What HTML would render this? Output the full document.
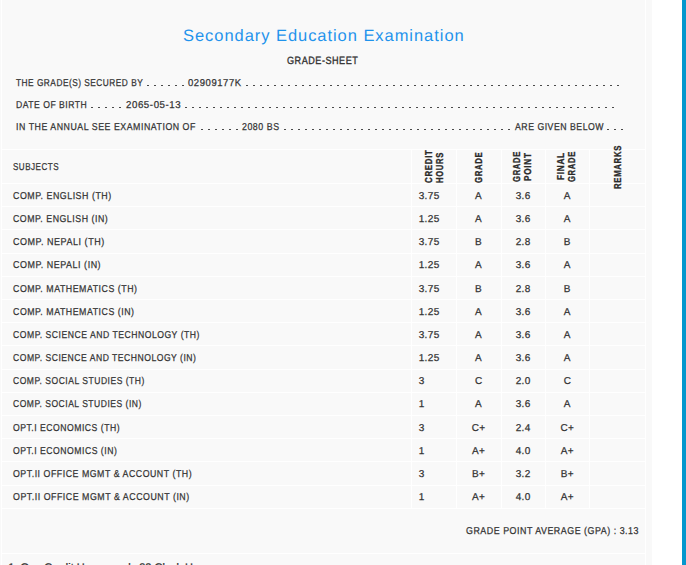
<!DOCTYPE html>
<html><head><meta charset="utf-8"><style>
html,body{margin:0;padding:0}
body{text-rendering:geometricPrecision;width:686px;height:565px;overflow:hidden;background:#f9f9f9;position:relative;font-family:"Liberation Sans", sans-serif}
.b{position:absolute}
.t{position:absolute;transform-origin:0 0;white-space:nowrap;font-size:10px;line-height:10px;font-weight:bold;color:#333}
</style></head><body>
<div class="b" style="left:1px;top:0px;width:1px;height:565px;background:#fff"></div>
<div class="b" style="left:645px;top:0px;width:1px;height:565px;background:#fff"></div>
<div class="b" style="left:652px;top:0px;width:30px;height:565px;background:#fff"></div>
<div class="b" style="left:682px;top:0px;width:4px;height:565px;background:#0497cd"></div>
<div class="b" style="left:147px;top:85px;width:37px;height:1px;background:linear-gradient(90deg,#4a4a4a 2px,transparent 2px) 0 0/7px 1px repeat-x"></div>
<div class="b" style="left:246px;top:85px;width:373px;height:1px;background:linear-gradient(90deg,#4a4a4a 2px,transparent 2px) 0 0/7px 1px repeat-x"></div>
<div class="b" style="left:91px;top:107px;width:30px;height:1px;background:linear-gradient(90deg,#4a4a4a 2px,transparent 2px) 0 0/7px 1px repeat-x"></div>
<div class="b" style="left:185px;top:107px;width:429px;height:1px;background:linear-gradient(90deg,#4a4a4a 2px,transparent 2px) 0 0/7px 1px repeat-x"></div>
<div class="b" style="left:201px;top:129px;width:37px;height:1px;background:linear-gradient(90deg,#4a4a4a 2px,transparent 2px) 0 0/7px 1px repeat-x"></div>
<div class="b" style="left:284px;top:129px;width:226px;height:1px;background:linear-gradient(90deg,#4a4a4a 2px,transparent 2px) 0 0/7px 1px repeat-x"></div>
<div class="b" style="left:607px;top:129px;width:16px;height:1px;background:linear-gradient(90deg,#4a4a4a 2px,transparent 2px) 0 0/7px 1px repeat-x"></div>
<div class="b" style="left:2px;top:149px;width:643px;height:1px;background:#fff"></div>
<div class="b" style="left:2px;top:183px;width:643px;height:1px;background:#fff"></div>
<div class="b" style="left:2px;top:206px;width:643px;height:1px;background:#fff"></div>
<div class="b" style="left:2px;top:229px;width:643px;height:1px;background:#fff"></div>
<div class="b" style="left:2px;top:253px;width:643px;height:1px;background:#fff"></div>
<div class="b" style="left:2px;top:276px;width:643px;height:1px;background:#fff"></div>
<div class="b" style="left:2px;top:299px;width:643px;height:1px;background:#fff"></div>
<div class="b" style="left:2px;top:322px;width:643px;height:1px;background:#fff"></div>
<div class="b" style="left:2px;top:345px;width:643px;height:1px;background:#fff"></div>
<div class="b" style="left:2px;top:369px;width:643px;height:1px;background:#fff"></div>
<div class="b" style="left:2px;top:392px;width:643px;height:1px;background:#fff"></div>
<div class="b" style="left:2px;top:415px;width:643px;height:1px;background:#fff"></div>
<div class="b" style="left:2px;top:438px;width:643px;height:1px;background:#fff"></div>
<div class="b" style="left:2px;top:461px;width:643px;height:1px;background:#fff"></div>
<div class="b" style="left:2px;top:485px;width:643px;height:1px;background:#fff"></div>
<div class="b" style="left:2px;top:508px;width:643px;height:1px;background:#fff"></div>
<div class="b" style="left:2px;top:553px;width:643px;height:1px;background:#fff"></div>
<div class="b" style="left:411px;top:149px;width:1px;height:359px;background:#fff"></div>
<div class="b" style="left:456px;top:149px;width:1px;height:359px;background:#fff"></div>
<div class="b" style="left:501px;top:149px;width:1px;height:359px;background:#fff"></div>
<div class="b" style="left:545px;top:149px;width:1px;height:359px;background:#fff"></div>
<div class="b" style="left:589px;top:149px;width:1px;height:359px;background:#fff"></div>
<div class="t" style="left:183.00px;top:27.53px;font-size:16.5px;line-height:16.5px;font-weight:normal;color:#1f93ec;letter-spacing:0.948px;transform-origin:0 13.967px;transform:scale(1.0000,1.0)">Secondary Education Examination</div>
<div class="t" style="left:287.20px;top:56.11px;font-size:10.5px;line-height:10.5px;font-weight:normal;color:#333;letter-spacing:0.600px;-webkit-text-stroke:0.35px #333;transform-origin:0 8.888px;transform:scale(0.8650,1.0)">GRADE-SHEET</div>
<div class="t" style="left:16.00px;top:78.53px;font-size:10px;line-height:10px;font-weight:normal;color:#333;letter-spacing:0.600px;-webkit-text-stroke:0.25px #333;transform-origin:0 8.465px;transform:scale(0.8301,1.0)">THE GRADE(S) SECURED BY</div>
<div class="t" style="left:188.00px;top:78.53px;font-size:10px;line-height:10px;font-weight:normal;color:#333;letter-spacing:0.600px;-webkit-text-stroke:0.25px #333;transform-origin:0 8.465px;transform:scale(0.9486,1.0)">02909177K</div>
<div class="t" style="left:15.80px;top:100.53px;font-size:10px;line-height:10px;font-weight:normal;color:#333;letter-spacing:0.600px;-webkit-text-stroke:0.25px #333;transform-origin:0 8.465px;transform:scale(0.8592,1.0)">DATE OF BIRTH</div>
<div class="t" style="left:125.80px;top:100.53px;font-size:10px;line-height:10px;font-weight:normal;color:#333;letter-spacing:0.600px;-webkit-text-stroke:0.25px #333;transform-origin:0 8.465px;transform:scale(0.9668,1.0)">2065-05-13</div>
<div class="t" style="left:16.40px;top:122.53px;font-size:10px;line-height:10px;font-weight:normal;color:#333;letter-spacing:0.600px;-webkit-text-stroke:0.25px #333;transform-origin:0 8.465px;transform:scale(0.8790,1.0)">IN THE ANNUAL SEE EXAMINATION OF</div>
<div class="t" style="left:242.40px;top:122.53px;font-size:10px;line-height:10px;font-weight:normal;color:#333;letter-spacing:0.600px;-webkit-text-stroke:0.25px #333;transform-origin:0 8.465px;transform:scale(0.8819,1.0)">2080 BS</div>
<div class="t" style="left:514.50px;top:122.53px;font-size:10px;line-height:10px;font-weight:normal;color:#333;letter-spacing:0.600px;-webkit-text-stroke:0.25px #333;transform-origin:0 8.465px;transform:scale(0.8699,1.0)">ARE GIVEN BELOW</div>
<div class="t" style="left:13.10px;top:162.53px;font-size:10px;line-height:10px;font-weight:normal;color:#333;letter-spacing:0.600px;-webkit-text-stroke:0.25px #333;transform-origin:0 8.465px;transform:scale(0.8069,1.0)">SUBJECTS</div>
<div class="t" style="left:13.10px;top:191.53px;font-size:10px;line-height:10px;font-weight:normal;color:#333;letter-spacing:0.600px;-webkit-text-stroke:0.25px #333;transform-origin:0 8.465px;transform:scale(0.8835,1.0)">COMP. ENGLISH (TH)</div>
<div class="t" style="left:13.10px;top:214.53px;font-size:10px;line-height:10px;font-weight:normal;color:#333;letter-spacing:0.600px;-webkit-text-stroke:0.25px #333;transform-origin:0 8.465px;transform:scale(0.8783,1.0)">COMP. ENGLISH (IN)</div>
<div class="t" style="left:13.10px;top:237.53px;font-size:10px;line-height:10px;font-weight:normal;color:#333;letter-spacing:0.600px;-webkit-text-stroke:0.25px #333;transform-origin:0 8.465px;transform:scale(0.8988,1.0)">COMP. NEPALI (TH)</div>
<div class="t" style="left:13.10px;top:260.54px;font-size:10px;line-height:10px;font-weight:normal;color:#333;letter-spacing:0.600px;-webkit-text-stroke:0.25px #333;transform-origin:0 8.465px;transform:scale(0.8926,1.0)">COMP. NEPALI (IN)</div>
<div class="t" style="left:13.10px;top:284.54px;font-size:10px;line-height:10px;font-weight:normal;color:#333;letter-spacing:0.600px;-webkit-text-stroke:0.25px #333;transform-origin:0 8.465px;transform:scale(0.8798,1.0)">COMP. MATHEMATICS (TH)</div>
<div class="t" style="left:13.10px;top:307.54px;font-size:10px;line-height:10px;font-weight:normal;color:#333;letter-spacing:0.600px;-webkit-text-stroke:0.25px #333;transform-origin:0 8.465px;transform:scale(0.8793,1.0)">COMP. MATHEMATICS (IN)</div>
<div class="t" style="left:13.10px;top:330.54px;font-size:10px;line-height:10px;font-weight:normal;color:#333;letter-spacing:0.600px;-webkit-text-stroke:0.25px #333;transform-origin:0 8.465px;transform:scale(0.8611,1.0)">COMP. SCIENCE AND TECHNOLOGY (TH)</div>
<div class="t" style="left:13.10px;top:353.54px;font-size:10px;line-height:10px;font-weight:normal;color:#333;letter-spacing:0.600px;-webkit-text-stroke:0.25px #333;transform-origin:0 8.465px;transform:scale(0.8582,1.0)">COMP. SCIENCE AND TECHNOLOGY (IN)</div>
<div class="t" style="left:13.10px;top:376.54px;font-size:10px;line-height:10px;font-weight:normal;color:#333;letter-spacing:0.600px;-webkit-text-stroke:0.25px #333;transform-origin:0 8.465px;transform:scale(0.8538,1.0)">COMP. SOCIAL STUDIES (TH)</div>
<div class="t" style="left:13.10px;top:399.54px;font-size:10px;line-height:10px;font-weight:normal;color:#333;letter-spacing:0.600px;-webkit-text-stroke:0.25px #333;transform-origin:0 8.465px;transform:scale(0.8521,1.0)">COMP. SOCIAL STUDIES (IN)</div>
<div class="t" style="left:13.10px;top:423.54px;font-size:10px;line-height:10px;font-weight:normal;color:#333;letter-spacing:0.600px;-webkit-text-stroke:0.25px #333;transform-origin:0 8.465px;transform:scale(0.8622,1.0)">OPT.I ECONOMICS (TH)</div>
<div class="t" style="left:13.10px;top:446.54px;font-size:10px;line-height:10px;font-weight:normal;color:#333;letter-spacing:0.600px;-webkit-text-stroke:0.25px #333;transform-origin:0 8.465px;transform:scale(0.8628,1.0)">OPT.I ECONOMICS (IN)</div>
<div class="t" style="left:13.10px;top:469.54px;font-size:10px;line-height:10px;font-weight:normal;color:#333;letter-spacing:0.600px;-webkit-text-stroke:0.25px #333;transform-origin:0 8.465px;transform:scale(0.8785,1.0)">OPT.II OFFICE MGMT &amp; ACCOUNT (TH)</div>
<div class="t" style="left:13.10px;top:492.54px;font-size:10px;line-height:10px;font-weight:normal;color:#333;letter-spacing:0.600px;-webkit-text-stroke:0.25px #333;transform-origin:0 8.465px;transform:scale(0.8812,1.0)">OPT.II OFFICE MGMT &amp; ACCOUNT (IN)</div>
<div class="t" style="left:466.00px;top:526.53px;font-size:10px;line-height:10px;font-weight:normal;color:#333;letter-spacing:0.600px;-webkit-text-stroke:0.25px #333;transform-origin:0 8.465px;transform:scale(0.8855,1.0)">GRADE POINT AVERAGE (GPA) : 3.13</div>
<div class="t" style="left:418.70px;top:191.53px;font-weight:normal;letter-spacing:0.35px;-webkit-text-stroke:0.25px #333;transform-origin:0 8.465px;transform:scaleY(1.0)">3.75</div>
<div class="t" style="left:418.70px;top:214.53px;font-weight:normal;letter-spacing:0.35px;-webkit-text-stroke:0.25px #333;transform-origin:0 8.465px;transform:scaleY(1.0)">1.25</div>
<div class="t" style="left:418.70px;top:237.53px;font-weight:normal;letter-spacing:0.35px;-webkit-text-stroke:0.25px #333;transform-origin:0 8.465px;transform:scaleY(1.0)">3.75</div>
<div class="t" style="left:418.70px;top:260.54px;font-weight:normal;letter-spacing:0.35px;-webkit-text-stroke:0.25px #333;transform-origin:0 8.465px;transform:scaleY(1.0)">1.25</div>
<div class="t" style="left:418.70px;top:284.54px;font-weight:normal;letter-spacing:0.35px;-webkit-text-stroke:0.25px #333;transform-origin:0 8.465px;transform:scaleY(1.0)">3.75</div>
<div class="t" style="left:418.70px;top:307.54px;font-weight:normal;letter-spacing:0.35px;-webkit-text-stroke:0.25px #333;transform-origin:0 8.465px;transform:scaleY(1.0)">1.25</div>
<div class="t" style="left:418.70px;top:330.54px;font-weight:normal;letter-spacing:0.35px;-webkit-text-stroke:0.25px #333;transform-origin:0 8.465px;transform:scaleY(1.0)">3.75</div>
<div class="t" style="left:418.70px;top:353.54px;font-weight:normal;letter-spacing:0.35px;-webkit-text-stroke:0.25px #333;transform-origin:0 8.465px;transform:scaleY(1.0)">1.25</div>
<div class="t" style="left:418.70px;top:376.54px;font-weight:normal;letter-spacing:0.35px;-webkit-text-stroke:0.25px #333;transform-origin:0 8.465px;transform:scaleY(1.0)">3</div>
<div class="t" style="left:418.70px;top:399.54px;font-weight:normal;letter-spacing:0.35px;-webkit-text-stroke:0.25px #333;transform-origin:0 8.465px;transform:scaleY(1.0)">1</div>
<div class="t" style="left:418.70px;top:423.54px;font-weight:normal;letter-spacing:0.35px;-webkit-text-stroke:0.25px #333;transform-origin:0 8.465px;transform:scaleY(1.0)">3</div>
<div class="t" style="left:418.70px;top:446.54px;font-weight:normal;letter-spacing:0.35px;-webkit-text-stroke:0.25px #333;transform-origin:0 8.465px;transform:scaleY(1.0)">1</div>
<div class="t" style="left:418.70px;top:469.54px;font-weight:normal;letter-spacing:0.35px;-webkit-text-stroke:0.25px #333;transform-origin:0 8.465px;transform:scaleY(1.0)">3</div>
<div class="t" style="left:418.70px;top:492.54px;font-weight:normal;letter-spacing:0.35px;-webkit-text-stroke:0.25px #333;transform-origin:0 8.465px;transform:scaleY(1.0)">1</div>
<div class="t" style="left:475.00px;top:191.53px;font-weight:normal;letter-spacing:0.35px;-webkit-text-stroke:0.25px #333;transform-origin:0 8.465px;transform:scaleY(1.0)">A</div>
<div class="t" style="left:515.68px;top:191.53px;font-weight:normal;letter-spacing:0.35px;-webkit-text-stroke:0.25px #333;transform-origin:0 8.465px;transform:scaleY(1.0)">3.6</div>
<div class="t" style="left:563.80px;top:191.53px;font-weight:normal;letter-spacing:0.35px;-webkit-text-stroke:0.25px #333;transform-origin:0 8.465px;transform:scaleY(1.0)">A</div>
<div class="t" style="left:475.00px;top:214.53px;font-weight:normal;letter-spacing:0.35px;-webkit-text-stroke:0.25px #333;transform-origin:0 8.465px;transform:scaleY(1.0)">A</div>
<div class="t" style="left:515.68px;top:214.53px;font-weight:normal;letter-spacing:0.35px;-webkit-text-stroke:0.25px #333;transform-origin:0 8.465px;transform:scaleY(1.0)">3.6</div>
<div class="t" style="left:563.80px;top:214.53px;font-weight:normal;letter-spacing:0.35px;-webkit-text-stroke:0.25px #333;transform-origin:0 8.465px;transform:scaleY(1.0)">A</div>
<div class="t" style="left:475.00px;top:237.53px;font-weight:normal;letter-spacing:0.35px;-webkit-text-stroke:0.25px #333;transform-origin:0 8.465px;transform:scaleY(1.0)">B</div>
<div class="t" style="left:515.68px;top:237.53px;font-weight:normal;letter-spacing:0.35px;-webkit-text-stroke:0.25px #333;transform-origin:0 8.465px;transform:scaleY(1.0)">2.8</div>
<div class="t" style="left:563.80px;top:237.53px;font-weight:normal;letter-spacing:0.35px;-webkit-text-stroke:0.25px #333;transform-origin:0 8.465px;transform:scaleY(1.0)">B</div>
<div class="t" style="left:475.00px;top:260.54px;font-weight:normal;letter-spacing:0.35px;-webkit-text-stroke:0.25px #333;transform-origin:0 8.465px;transform:scaleY(1.0)">A</div>
<div class="t" style="left:515.68px;top:260.54px;font-weight:normal;letter-spacing:0.35px;-webkit-text-stroke:0.25px #333;transform-origin:0 8.465px;transform:scaleY(1.0)">3.6</div>
<div class="t" style="left:563.80px;top:260.54px;font-weight:normal;letter-spacing:0.35px;-webkit-text-stroke:0.25px #333;transform-origin:0 8.465px;transform:scaleY(1.0)">A</div>
<div class="t" style="left:475.00px;top:284.54px;font-weight:normal;letter-spacing:0.35px;-webkit-text-stroke:0.25px #333;transform-origin:0 8.465px;transform:scaleY(1.0)">B</div>
<div class="t" style="left:515.68px;top:284.54px;font-weight:normal;letter-spacing:0.35px;-webkit-text-stroke:0.25px #333;transform-origin:0 8.465px;transform:scaleY(1.0)">2.8</div>
<div class="t" style="left:563.80px;top:284.54px;font-weight:normal;letter-spacing:0.35px;-webkit-text-stroke:0.25px #333;transform-origin:0 8.465px;transform:scaleY(1.0)">B</div>
<div class="t" style="left:475.00px;top:307.54px;font-weight:normal;letter-spacing:0.35px;-webkit-text-stroke:0.25px #333;transform-origin:0 8.465px;transform:scaleY(1.0)">A</div>
<div class="t" style="left:515.68px;top:307.54px;font-weight:normal;letter-spacing:0.35px;-webkit-text-stroke:0.25px #333;transform-origin:0 8.465px;transform:scaleY(1.0)">3.6</div>
<div class="t" style="left:563.80px;top:307.54px;font-weight:normal;letter-spacing:0.35px;-webkit-text-stroke:0.25px #333;transform-origin:0 8.465px;transform:scaleY(1.0)">A</div>
<div class="t" style="left:475.00px;top:330.54px;font-weight:normal;letter-spacing:0.35px;-webkit-text-stroke:0.25px #333;transform-origin:0 8.465px;transform:scaleY(1.0)">A</div>
<div class="t" style="left:515.68px;top:330.54px;font-weight:normal;letter-spacing:0.35px;-webkit-text-stroke:0.25px #333;transform-origin:0 8.465px;transform:scaleY(1.0)">3.6</div>
<div class="t" style="left:563.80px;top:330.54px;font-weight:normal;letter-spacing:0.35px;-webkit-text-stroke:0.25px #333;transform-origin:0 8.465px;transform:scaleY(1.0)">A</div>
<div class="t" style="left:475.00px;top:353.54px;font-weight:normal;letter-spacing:0.35px;-webkit-text-stroke:0.25px #333;transform-origin:0 8.465px;transform:scaleY(1.0)">A</div>
<div class="t" style="left:515.68px;top:353.54px;font-weight:normal;letter-spacing:0.35px;-webkit-text-stroke:0.25px #333;transform-origin:0 8.465px;transform:scaleY(1.0)">3.6</div>
<div class="t" style="left:563.80px;top:353.54px;font-weight:normal;letter-spacing:0.35px;-webkit-text-stroke:0.25px #333;transform-origin:0 8.465px;transform:scaleY(1.0)">A</div>
<div class="t" style="left:475.00px;top:376.54px;font-weight:normal;letter-spacing:0.35px;-webkit-text-stroke:0.25px #333;transform-origin:0 8.465px;transform:scaleY(1.0)">C</div>
<div class="t" style="left:515.68px;top:376.54px;font-weight:normal;letter-spacing:0.35px;-webkit-text-stroke:0.25px #333;transform-origin:0 8.465px;transform:scaleY(1.0)">2.0</div>
<div class="t" style="left:563.80px;top:376.54px;font-weight:normal;letter-spacing:0.35px;-webkit-text-stroke:0.25px #333;transform-origin:0 8.465px;transform:scaleY(1.0)">C</div>
<div class="t" style="left:475.00px;top:399.54px;font-weight:normal;letter-spacing:0.35px;-webkit-text-stroke:0.25px #333;transform-origin:0 8.465px;transform:scaleY(1.0)">A</div>
<div class="t" style="left:515.68px;top:399.54px;font-weight:normal;letter-spacing:0.35px;-webkit-text-stroke:0.25px #333;transform-origin:0 8.465px;transform:scaleY(1.0)">3.6</div>
<div class="t" style="left:563.80px;top:399.54px;font-weight:normal;letter-spacing:0.35px;-webkit-text-stroke:0.25px #333;transform-origin:0 8.465px;transform:scaleY(1.0)">A</div>
<div class="t" style="left:471.71px;top:423.54px;font-weight:normal;letter-spacing:0.35px;-webkit-text-stroke:0.25px #333;transform-origin:0 8.465px;transform:scaleY(1.0)">C+</div>
<div class="t" style="left:515.68px;top:423.54px;font-weight:normal;letter-spacing:0.35px;-webkit-text-stroke:0.25px #333;transform-origin:0 8.465px;transform:scaleY(1.0)">2.4</div>
<div class="t" style="left:560.51px;top:423.54px;font-weight:normal;letter-spacing:0.35px;-webkit-text-stroke:0.25px #333;transform-origin:0 8.465px;transform:scaleY(1.0)">C+</div>
<div class="t" style="left:471.99px;top:446.54px;font-weight:normal;letter-spacing:0.35px;-webkit-text-stroke:0.25px #333;transform-origin:0 8.465px;transform:scaleY(1.0)">A+</div>
<div class="t" style="left:515.68px;top:446.54px;font-weight:normal;letter-spacing:0.35px;-webkit-text-stroke:0.25px #333;transform-origin:0 8.465px;transform:scaleY(1.0)">4.0</div>
<div class="t" style="left:560.79px;top:446.54px;font-weight:normal;letter-spacing:0.35px;-webkit-text-stroke:0.25px #333;transform-origin:0 8.465px;transform:scaleY(1.0)">A+</div>
<div class="t" style="left:471.99px;top:469.54px;font-weight:normal;letter-spacing:0.35px;-webkit-text-stroke:0.25px #333;transform-origin:0 8.465px;transform:scaleY(1.0)">B+</div>
<div class="t" style="left:515.68px;top:469.54px;font-weight:normal;letter-spacing:0.35px;-webkit-text-stroke:0.25px #333;transform-origin:0 8.465px;transform:scaleY(1.0)">3.2</div>
<div class="t" style="left:560.79px;top:469.54px;font-weight:normal;letter-spacing:0.35px;-webkit-text-stroke:0.25px #333;transform-origin:0 8.465px;transform:scaleY(1.0)">B+</div>
<div class="t" style="left:471.99px;top:492.54px;font-weight:normal;letter-spacing:0.35px;-webkit-text-stroke:0.25px #333;transform-origin:0 8.465px;transform:scaleY(1.0)">A+</div>
<div class="t" style="left:515.68px;top:492.54px;font-weight:normal;letter-spacing:0.35px;-webkit-text-stroke:0.25px #333;transform-origin:0 8.465px;transform:scaleY(1.0)">4.0</div>
<div class="t" style="left:560.79px;top:492.54px;font-weight:normal;letter-spacing:0.35px;-webkit-text-stroke:0.25px #333;transform-origin:0 8.465px;transform:scaleY(1.0)">A+</div>
<div class="t" style="left:425.19px;top:183.00px;font-weight:bold;color:#2a2a2a;letter-spacing:0.9px;-webkit-text-stroke:0.35px #2a2a2a;transform:rotate(-90deg) scaleX(0.788)">CREDIT</div>
<div class="t" style="left:436.19px;top:183.00px;font-weight:bold;color:#2a2a2a;letter-spacing:0.9px;-webkit-text-stroke:0.35px #2a2a2a;transform:rotate(-90deg) scaleX(0.764)">HOURS</div>
<div class="t" style="left:474.94px;top:182.60px;font-weight:bold;color:#2a2a2a;letter-spacing:0.9px;-webkit-text-stroke:0.35px #2a2a2a;transform:rotate(-90deg) scaleX(0.772)">GRADE</div>
<div class="t" style="left:513.28px;top:181.50px;font-weight:bold;color:#2a2a2a;letter-spacing:0.9px;-webkit-text-stroke:0.35px #2a2a2a;transform:rotate(-90deg) scaleX(0.764)">GRADE</div>
<div class="t" style="left:523.93px;top:180.80px;font-weight:bold;color:#2a2a2a;letter-spacing:0.9px;-webkit-text-stroke:0.35px #2a2a2a;transform:rotate(-90deg) scaleX(0.816)">POINT</div>
<div class="t" style="left:556.99px;top:180.00px;font-weight:bold;color:#2a2a2a;letter-spacing:0.9px;-webkit-text-stroke:0.35px #2a2a2a;transform:rotate(-90deg) scaleX(0.820)">FINAL</div>
<div class="t" style="left:568.13px;top:181.50px;font-weight:bold;color:#2a2a2a;letter-spacing:0.9px;-webkit-text-stroke:0.35px #2a2a2a;transform:rotate(-90deg) scaleX(0.762)">GRADE</div>
<div class="t" style="left:614.24px;top:189.20px;font-weight:bold;color:#2a2a2a;letter-spacing:0.9px;-webkit-text-stroke:0.35px #2a2a2a;transform:rotate(-90deg) scaleX(0.775)">REMARKS</div>
<div class="t" style="left:8.3px;top:562.7px;font-size:11px;line-height:11px;font-weight:normal;letter-spacing:0px;-webkit-text-stroke:0.25px #333;">1. One Credit Hour equals 32 Clock Hours.</div>
</body></html>
